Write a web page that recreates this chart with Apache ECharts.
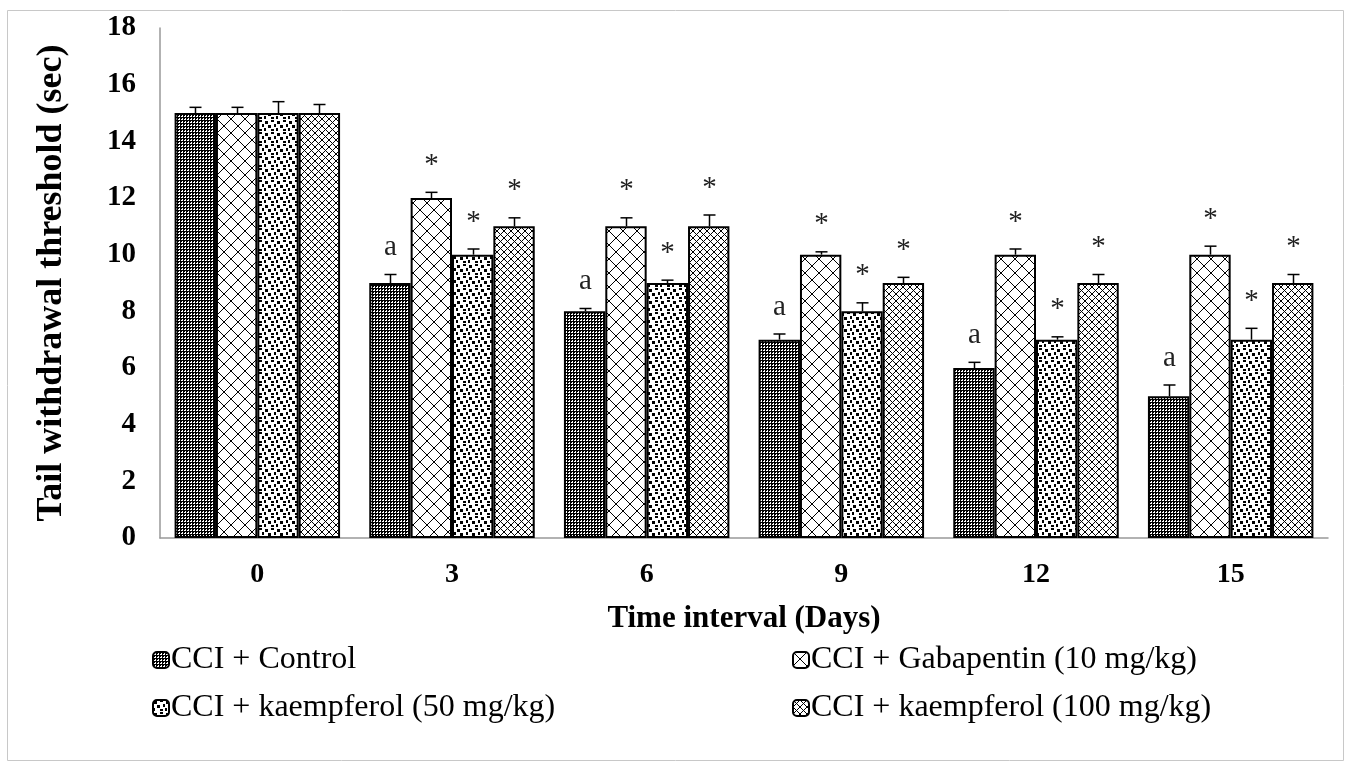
<!DOCTYPE html>
<html>
<head>
<meta charset="utf-8">
<script src="https://cdn.jsdelivr.net/npm/echarts@6/dist/echarts.min.js"></script>
<style>
html,body{margin:0;padding:0;background:#fff;}
#chart{width:1351px;height:769px;}
</style>
</head>
<body>
<div id="chart"></div>
<script>
const categories = ['0', '3', '6', '9', '12', '15'];
const seriesNames = ['CCI + Control', 'CCI + Gabapentin (10 mg/kg)', 'CCI + kaempferol (50 mg/kg)', 'CCI + kaempferol (100 mg/kg)'];
const controlValues = [15, 9, 8, 7, 6, 5];
const gabapentinValues = [15, 12, 11, 10, 10, 10];
const k50Values = [15, 10, 9, 8, 7, 7];
const k100Values = [15, 11, 11, 9, 9, 9];
const controlErrors = [0.2, 0.3, 0.1, 0.2, 0.2, 0.4];
const gabapentinErrors = [0.2, 0.2, 0.3, 0.1, 0.2, 0.3];
const k50Errors = [0.4, 0.2, 0.1, 0.3, 0.1, 0.4];
const k100Errors = [0.3, 0.3, 0.4, 0.2, 0.3, 0.3];
const controlMarks = ['', 'a', 'a', 'a', 'a', 'a'];
const gabapentinMarks = ['', '*', '*', '*', '*', '*'];
const k50Marks = ['', '*', '*', '*', '*', '*'];
const k100Marks = ['', '*', '*', '*', '*', '*'];
const yMin = 0, yMax = 18, yInterval = 2;

const FONT = '"Liberation Serif", "Times New Roman", serif';

function tile(w, h, draw) {
  const c = document.createElement('canvas');
  c.width = w; c.height = h;
  const g = c.getContext('2d');
  g.fillStyle = '#fff'; g.fillRect(0, 0, w, h);
  g.fillStyle = '#000';
  draw(g, w, h);
  return { image: c, repeat: 'repeat' };
}
// dense plaid grid
const patControl = tile(6, 6, (g) => {
  g.fillRect(0, 0, 6, 1); g.fillRect(0, 3, 6, 1);
  g.fillRect(0, 0, 1, 6); g.fillRect(3, 0, 1, 6);
  g.fillRect(1, 1, 1, 1); g.fillRect(4, 4, 1, 1); g.fillRect(4, 1, 1, 1); g.fillRect(1, 4, 1, 1);
});
// outlined diamonds
const patGaba = tile(14, 14, (g) => {
  for (let i = 0; i < 14; i++) { g.fillRect(i, i, 1, 1); g.fillRect(13 - i, i, 1, 1); }
  g.fillRect(6, 6, 2, 2);
  g.fillRect(0, 0, 1, 1); g.fillRect(13, 0, 1, 1); g.fillRect(0, 13, 1, 1); g.fillRect(13, 13, 1, 1);
});
// large confetti
const patK50 = tile(12, 12, (g) => {
  g.fillRect(1, 1, 3, 3); g.fillRect(7, 0, 3, 2); g.fillRect(4, 5, 3, 3);
  g.fillRect(10, 4, 2, 3); g.fillRect(0, 8, 2, 3); g.fillRect(7, 9, 3, 2);
});
// diagonal hatch
const patK100 = tile(7, 7, (g) => {
  for (let i = 0; i < 7; i++) { g.fillRect(i, i, 1, 1); g.fillRect(6 - i, i, 1, 1); }
});
const patterns = [patControl, patGaba, patK50, patK100];
const valueSets = [controlValues, gabapentinValues, k50Values, k100Values];
const errorSets = [controlErrors, gabapentinErrors, k50Errors, k100Errors];
const markSets = [controlMarks, gabapentinMarks, k50Marks, k100Marks];
const GAP = 0.15;

const barSeries = seriesNames.map((name, i) => ({
  name: name,
  type: 'bar',
  data: valueSets[i],
  barGap: '0%',
  barCategoryGap: (GAP * 100) + '%',
  itemStyle: { color: patterns[i], borderColor: '#000', borderWidth: 2 },
  emphasis: { disabled: true },
  z: 2
}));

const errSeries = seriesNames.map((name, i) => ({
  name: name + ' error',
  type: 'custom',
  coordinateSystem: 'cartesian2d',
  data: valueSets[i].map((v, k) => [k, v, errorSets[i][k], markSets[i][k]]),
  encode: { x: 0, y: 1 },
  z: 5,
  silent: true,
  renderItem: function (params, api) {
    const idx = api.value(0), v = api.value(1), e = api.value(2);
    const mark = markSets[i][idx];
    const band = api.size([1, 0])[0];
    const bw = band * (1 - GAP) / 4;
    const base = api.coord([idx, v]);
    const top = api.coord([idx, v + e]);
    const x = Math.round(base[0] + (i - 1.5) * bw) + 0.5;
    const children = [
      { type: 'line', shape: { x1: x, y1: base[1], x2: x, y2: top[1] }, style: { stroke: '#000', lineWidth: 1.5 } },
      { type: 'line', shape: { x1: x - 6, y1: top[1], x2: x + 6, y2: top[1] }, style: { stroke: '#000', lineWidth: 1.5 } }
    ];
    if (mark) {
      children.push({ type: 'text', style: { text: mark, x: x, y: top[1] - 27, align: 'center', verticalAlign: 'middle', font: '29px ' + FONT, fill: '#222' } });
    }
    return { type: 'group', children: children };
  }
}));

const chart = echarts.init(document.getElementById('chart'), null, { renderer: 'canvas' });
chart.setOption({
  animation: false,
  backgroundColor: '#fff',
  graphic: [{ type: 'rect', shape: { x: 7.5, y: 10.5, width: 1336, height: 750 }, style: { fill: 'none', stroke: '#c8c8c8', lineWidth: 1 }, silent: true, z: -1 }],
  grid: { left: 160, right: 23, top: 28, bottom: 231 },
  xAxis: {
    type: 'category',
    data: categories,
    axisLine: { lineStyle: { color: '#999', width: 1.5 } },
    axisTick: { show: false },
    axisLabel: { color: '#000', fontFamily: FONT, fontWeight: 'bold', fontSize: 28, margin: 23 },
    name: 'Time interval (Days)',
    nameLocation: 'middle',
    nameGap: 65,
    nameTextStyle: { color: '#000', fontFamily: FONT, fontWeight: 'bold', fontSize: 31 }
  },
  yAxis: {
    type: 'value',
    min: yMin, max: yMax, interval: yInterval,
    axisLine: { show: true, lineStyle: { color: '#999', width: 1.5 } },
    axisTick: { show: false },
    splitLine: { show: false },
    axisLabel: { color: '#000', fontFamily: FONT, fontWeight: 'bold', fontSize: 29, margin: 24 },
    name: 'Tail withdrawal threshold (sec)',
    nameLocation: 'middle',
    nameGap: 90,
    nameTextStyle: { color: '#000', fontFamily: FONT, fontWeight: 'bold', fontSize: 36 }
  },
  legend: [
    { data: [seriesNames[0], seriesNames[2]], orient: 'vertical', left: 147, top: 639, itemWidth: 16, itemHeight: 16, itemGap: 16, selectedMode: false,
      textStyle: { color: '#000', fontFamily: FONT, fontSize: 32, padding: [0, 0, 0, -3] } },
    { data: [seriesNames[1], seriesNames[3]], orient: 'vertical', left: 787, top: 639, itemWidth: 16, itemHeight: 16, itemGap: 16, selectedMode: false,
      textStyle: { color: '#000', fontFamily: FONT, fontSize: 32, padding: [0, 0, 0, -3] } }
  ],
  series: barSeries.concat(errSeries)
});
</script>
</body>
</html>
